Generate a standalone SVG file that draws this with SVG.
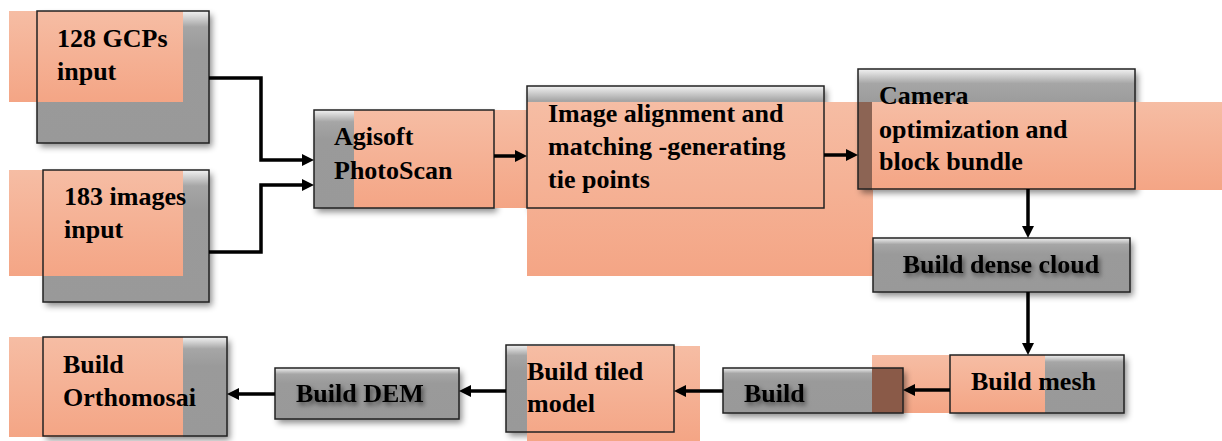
<svg xmlns="http://www.w3.org/2000/svg" width="1222" height="441" viewBox="0 0 1222 441">
<defs>
<linearGradient id="sal" x1="0" y1="0" x2="0" y2="1"><stop offset="0" stop-color="#F6BDA4"/><stop offset="1" stop-color="#F4A585"/></linearGradient>
<linearGradient id="gry" x1="0" y1="0" x2="0" y2="1"><stop offset="0" stop-color="#f2f2f2"/><stop offset="0.12" stop-color="#a6a6a6"/><stop offset="0.3" stop-color="#9a9a9a"/><stop offset="1" stop-color="#999"/></linearGradient>
<filter id="sh" x="-10%" y="-20%" width="130%" height="150%"><feDropShadow dx="3" dy="4" stdDeviation="3" flood-color="#000" flood-opacity="0.45"/></filter>
<filter id="tsh" x="-10%" y="-30%" width="130%" height="170%"><feDropShadow dx="2" dy="3" stdDeviation="2.5" flood-color="#000" flood-opacity="0.55"/></filter>
<marker id="ah" viewBox="0 0 12 12" refX="2" refY="6" markerWidth="12" markerHeight="12" markerUnits="userSpaceOnUse" orient="auto"><path d="M0,0 L12,6 L0,12 z" fill="#000"/></marker>
</defs>
<style>
.g{fill:url(#gry);filter:url(#sh)}
.s{fill:url(#sal)}
.b{fill:none;stroke:#222;stroke-width:1.5}
.t{font-family:"Liberation Serif","Times New Roman",serif;font-weight:bold;font-size:26px;fill:#000}
.ts{filter:url(#tsh)}
.c{fill:none;stroke:#000;stroke-width:3.5;marker-end:url(#ah)}
.m{fill:#8a5a48}
</style>
<rect width="1222" height="441" fill="#fff"/>

<g id="n1">
<rect class="g" x="37" y="11" width="172" height="132"/>
<rect class="s" x="9" y="11" width="174" height="91"/>
<rect class="b" x="37" y="11" width="172" height="132"/>
<text class="t" x="57" y="47">128 GCPs</text>
<text class="t" x="57" y="80">input</text>
</g>

<g id="n2">
<rect class="g" x="43" y="170" width="166" height="132"/>
<rect class="s" x="9" y="170" width="174" height="106"/>
<rect class="b" x="43" y="170" width="166" height="132"/>
<text class="t" x="64" y="205">183 images</text>
<text class="t" x="64" y="238">input</text>
</g>

<g id="n3">
<rect class="g" x="314" y="110" width="180" height="98"/>
<rect class="s" x="354" y="110" width="174" height="98"/>
<rect class="b" x="314" y="110" width="180" height="98"/>
<text class="t" x="334" y="145">Agisoft</text>
<text class="t" x="334" y="179">PhotoScan</text>
</g>

<g id="n4">
<rect class="g" x="527" y="86" width="297" height="122"/>
<rect class="s" x="527" y="102" width="346" height="174"/>
<rect class="b" x="527" y="86" width="297" height="122"/>
<text class="t" x="548" y="122">Image alignment and</text>
<text class="t" x="548" y="155">matching -generating</text>
<text class="t" x="548" y="188">tie points</text>
</g>

<g id="n5">
<rect class="g" x="858" y="69" width="277" height="120"/>
<rect class="m" x="858" y="102" width="15" height="87" opacity="0.85"/>
<rect class="s" x="872" y="102" width="350" height="88"/>
<rect class="b" x="858" y="69" width="277" height="120"/>
<text class="t" x="879" y="104">Camera</text>
<text class="t" x="879" y="138">optimization and</text>
<text class="t" x="879" y="170">block bundle</text>
</g>

<g id="n6">
<rect class="g" x="873" y="238" width="257" height="54"/>
<rect class="b" x="873" y="238" width="257" height="54"/>
<text class="t ts" x="1001" y="273" text-anchor="middle">Build dense cloud</text>
</g>

<g id="n7">
<rect class="g" x="950" y="355" width="174" height="58"/>
<rect class="s" x="872" y="355" width="173" height="58"/>
<rect class="b" x="950" y="355" width="174" height="58"/>
<text class="t" x="971" y="390">Build mesh</text>
</g>

<g id="n8">
<rect class="g" x="723" y="368" width="180" height="45"/>
<rect class="m" x="872" y="368" width="31" height="45"/>
<rect class="b" x="723" y="368" width="180" height="45"/>
<text class="t ts" x="744" y="402">Build</text>
</g>

<g id="n9">
<rect class="g" x="506" y="345" width="168" height="87"/>
<rect class="s" x="527" y="346" width="173" height="95"/>
<rect class="b" x="506" y="345" width="168" height="87"/>
<text class="t" x="527" y="380">Build tiled</text>
<text class="t" x="527" y="412">model</text>
</g>

<g id="n10">
<rect class="g" x="275" y="368" width="184" height="51"/>
<rect class="b" x="275" y="368" width="184" height="51"/>
<text class="t ts" x="296" y="402">Build DEM</text>
</g>

<g id="n11">
<rect class="g" x="43" y="337" width="184" height="99"/>
<rect class="s" x="9" y="337" width="174" height="100"/>
<rect class="b" x="43" y="337" width="184" height="99"/>
<text class="t" x="63" y="373">Build</text>
<text class="t" x="63" y="406">Orthomosai</text>
</g>

<g id="connectors">
<path class="c" d="M209,78 H261 V160 H304"/>
<path class="c" d="M209,252 H261 V185 H304"/>
<path class="c" d="M494,156 H517"/>
<path class="c" d="M824,155 H848"/>
<path class="c" d="M1028,189 V228"/>
<path class="c" d="M1028,292 V345"/>
<path class="c" d="M950,390 H913"/>
<path class="c" d="M723,391 H684"/>
<path class="c" d="M506,391 H469"/>
<path class="c" d="M275,394 H237"/>
</g>
</svg>
